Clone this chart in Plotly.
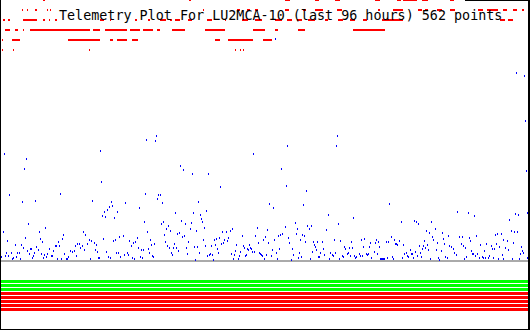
import plotly.graph_objects as go

TITLE = "Telemetry Plot For LU2MCA-10 (last 96 hours) 562 points"

# x unit: time bin (530 bins span the 96-hour window); y unit: telemetry value
WINDOW_START = 0.5
WINDOW_END = 527.5

# ---- telemetry samples (time bin, value), by quarter ----
samples_q1 = [
    (4,107),(26,102),(24,92),(100,110),(101,79),(9,66),(22,59),(35,60),(60,67),(92,60),
    (111,59),(125,58),(109,54),(107,51),(112,55),(104,49),(102,45),(105,44),(117,49),(114,43),
    (28,37),(45,33),(3,29),(39,29),(83,29),(85,26),(63,26),(7,20),(25,23),(40,22),
    (62,22),(89,21),(103,22),(119,24),(123,25),(115,21),(113,20),(129,20),(133,18),(42,19),
    (58,19),(15,16),(21,16),(23,13),(30,12),(31,12),(36,14),(38,11),(49,12),(53,10),
    (55,15),(56,15),(59,15),(64,7),(70,10),(72,9),(74,10),(75,15),(77,17),(79,17),
    (80,13),(82,15),(84,11),(87,17),(91,20),(94,18),(96,16),(95,11),(97,9),(1,4),
    (5,5),(6,8),(8,5),(11,8),(12,2),(13,3),(16,4),(17,8),(19,8),(20,2),
    (27,10),(29,7),(32,3),(33,5),(34,8),(41,7),(43,3),(44,6),(46,4),(47,7),
    (51,5),(52,5),(57,2),(61,2),(66,2),(67,2),(68,4),(76,5),(90,2),(98,3),
    (99,3),(106,9),(108,4),(110,3),(116,8),(118,8),(120,4),(124,6),(127,8),(128,6),
    (131,15),(132,3),(134,2),
]
samples_q2 = [
    (146,121),(156,125),(155,120),(253,107),(180,95),(183,91),(192,87),(208,87),(220,74),(145,67),
    (158,66),(160,66),(157,62),(162,58),(198,59),(139,53),(175,48),(193,48),(206,50),(200,46),
    (201,42),(202,39),(144,39),(163,39),(161,37),(181,40),(185,37),(191,38),(168,35),(166,32),
    (170,30),(190,32),(204,33),(196,30),(147,29),(177,27),(179,28),(164,26),(184,25),(182,24),
    (222,29),(226,29),(230,30),(232,32),(257,33),(242,25),(255,25),(265,24),(137,23),(135,19),
    (133,18),(150,21),(151,16),(154,17),(165,19),(167,15),(174,17),(188,19),(203,21),(214,21),
    (216,22),(219,23),(224,21),(228,23),(227,20),(223,18),(215,16),(221,17),(211,15),(236,16),
    (243,15),(244,13),(249,16),(250,13),(247,12),(263,21),(258,18),(138,13),(141,11),(143,11),
    (148,12),(149,8),(152,5),(153,4),(169,13),(171,8),(172,6),(173,13),(176,13),(178,10),
    (186,13),(194,14),(197,14),(199,8),(205,15),(207,5),(209,6),(210,7),(212,6),(217,12),
    (218,8),(213,1),(231,7),(233,2),(234,6),(235,10),(238,2),(239,5),(240,9),(245,5),
    (246,6),(248,11),(251,12),(252,9),(254,9),(259,8),(260,7),(261,6),(262,5),(264,2),
    (266,6),(140,4),(142,3),(195,1),(187,7),
]
samples_q3 = [
    (337,125),(336,115),(287,115),(281,92),(286,75),(306,70),(269,57),(273,53),(303,56),(389,57),
    (328,46),(353,43),(295,38),(338,37),(285,34),(307,35),(311,35),(309,32),(297,32),(326,31),
    (267,31),(278,25),(280,26),(282,27),(296,27),(302,26),(304,25),(265,24),(274,21),(288,23),
    (300,21),(268,18),(289,18),(305,19),(313,19),(317,19),(322,19),(314,16),(315,14),(323,12),
    (316,11),(334,21),(340,20),(351,19),(344,14),(345,12),(349,13),(352,13),(361,21),(364,22),
    (363,14),(369,14),(370,18),(375,18),(376,21),(378,19),(379,14),(386,19),(388,19),(391,24),
    (394,21),(395,17),(397,16),(272,11),(279,12),(292,12),(276,8),(266,6),(271,5),(277,2),
    (293,6),(298,3),(299,8),(301,4),(312,9),(320,8),(318,4),(319,4),(324,6),(329,2),
    (330,8),(332,6),(333,5),(335,8),(339,2),(342,5),(343,4),(347,7),(348,8),(350,5),
    (354,5),(355,3),(356,4),(359,7),(360,5),(362,5),(366,7),(367,6),(368,7),(371,3),
    (374,9),(377,7),(380,2),(381,2),(382,2),(383,2),(384,2),(387,3),(392,4),(393,2),
    (264,2),(291,1),(310,2),(275,222),
]
samples_q4 = [
    (516,188),(524,185),(525,140),(526,90),(528,86),(457,49),(468,48),(474,45),(515,47),(518,46),
    (527,48),(401,39),(414,40),(416,39),(418,37),(431,39),(509,41),(435,32),(426,30),(429,28),
    (442,28),(448,25),(511,30),(514,29),(517,29),(495,26),(497,27),(501,27),(432,24),(459,24),
    (462,24),(469,23),(476,25),(399,20),(424,20),(433,21),(443,22),(437,18),(470,20),(503,21),
    (507,20),(513,18),(396,17),(397,16),(403,16),(419,15),(423,15),(427,16),(444,17),(449,15),
    (451,14),(461,17),(463,15),(465,13),(480,16),(486,17),(491,15),(492,12),(494,12),(496,17),
    (499,14),(505,13),(508,11),(521,14),(522,10),(422,12),(425,13),(428,11),(410,11),(415,9),
    (420,8),(436,11),(441,10),(453,12),(454,8),(456,6),(471,10),(484,10),(502,6),(404,7),
    (406,8),(407,5),(408,4),(411,7),(412,7),(413,3),(417,5),(421,4),(402,3),(430,2),
    (438,3),(439,1),(445,4),(447,3),(464,2),(466,4),(472,7),(473,7),(475,5),(477,7),
    (479,3),(482,4),(483,3),(485,3),(488,3),(489,5),(493,3),(498,2),(503,2),(512,2),
    (519,2),(520,7),(523,8),(527,3),
]

# ---- status bits: time-bin runs where each bit is set (bit 0 at top) ----
bit0_runs = [(43,44),(189,190),(285,289),(315,318),(335,339),(375,379),(397,400),(403,416),
             (422,427),(450,453),(482,506),(518,523)]
bit1_runs = [(22,22),(27,27),(35,36),(47,47),(50,50),(203,203),(237,239),(247,249),(255,257),
             (285,288),(303,305),(315,322),(337,341),(378,379),(393,402),(418,421),(425,427),
             (437,441),(450,454),(478,482),(487,497),(503,506),(513,516),(522,523)]
bit2_runs = [(3,4),(8,9),(23,36),(43,44),(49,49),(55,56),(100,103),(110,110),(135,136),(148,149),
             (160,165),(170,171),(175,179),(188,191),(207,211),(225,225),(242,247),(255,261),
             (275,281),(287,291),(297,301),(308,314),(325,327),(338,342),(350,354),(363,366),
             (382,402),(500,504),(508,512)]
bit3_runs = [(5,9),(15,17),(23,23),(30,89),(93,99),(105,126),(130,139),(143,152),(157,159),
             (172,184),(205,224),(253,264),(275,277),(298,304),(353,384)]
bit4_runs = [(2,2),(12,19),(68,99),(110,112),(117,126),(132,137),(215,219),(228,252),(263,271)]
bit5_runs = [(2,2),(13,13),(89,89),(235,235),(240,240),(243,243)]
bit_rows = [bit0_runs, bit1_runs, bit2_runs, bit3_runs, bit4_runs, bit5_runs]

# ---- channel status bands at the bottom ----
band_status = ["ok", "ok", "ok", "alarm", "alarm", "alarm", "alarm", "alarm"]
STATUS_COLORS = {"ok": "#00ff00", "alarm": "#ff0000"}

BASELINE_VALUE = 0

fig = go.Figure()

# baseline
fig.add_trace(go.Scatter(
    x=[WINDOW_START, WINDOW_END], y=[BASELINE_VALUE, BASELINE_VALUE],
    mode="lines", line=dict(color="#aaaaaa", width=2), hoverinfo="skip",
    xaxis="x", yaxis="y"))

# bands
for j, st in enumerate(band_status):
    fig.add_trace(go.Scatter(
        x=[WINDOW_START, WINDOW_END], y=[j, j], mode="lines",
        line=dict(color=STATUS_COLORS[st], width=3), hoverinfo="skip",
        xaxis="x", yaxis="y3"))

# bit rows
HALF_BIN = 0.5
for k, runs in enumerate(bit_rows):
    xs, ys = [], []
    for a, b in runs:
        xs += [a - HALF_BIN, b + HALF_BIN, None]
        ys += [k, k, None]
    fig.add_trace(go.Scatter(
        x=xs, y=ys, mode="lines", line=dict(color="#ff0000", width=2),
        hoverinfo="skip", connectgaps=False, xaxis="x", yaxis="y2"))

# telemetry samples
all_samples = samples_q1 + samples_q2 + samples_q3 + samples_q4
fig.add_trace(go.Scatter(
    x=[s[0] for s in all_samples], y=[s[1] for s in all_samples],
    mode="markers",
    marker=dict(symbol="line-ns", size=1.43, color="#0000ff",
                line=dict(color="#0000ff", width=1)),
    xaxis="x", yaxis="y"))

W, H = 530, 330
fig.update_layout(
    width=W, height=H, margin=dict(l=0, r=0, t=0, b=0, pad=0),
    paper_bgcolor="white", plot_bgcolor="rgba(0,0,0,0)", showlegend=False,
    xaxis=dict(range=[-0.5, 529.5], visible=False, fixedrange=True),
    yaxis=dict(range=[-69, 261], visible=False, domain=[0, 1]),
    yaxis2=dict(range=[33, 0], visible=False, domain=[0, 1], overlaying="y"),
    yaxis3=dict(range=[7.5, -0.5], visible=False,
                domain=[18.5 / H, 50.5 / H], anchor="x"),
    annotations=[dict(
        text=TITLE, xref="paper", yref="paper", x=280 / W, y=1 - 16.0 / H,
        xanchor="center", yanchor="middle", showarrow=False,
        font=dict(family="DejaVu Sans Mono", size=13.4, color="black"))],
    shapes=[
        dict(type="line", xref="paper", yref="paper", x0=0.5 / W, x1=0.5 / W, y0=0, y1=1,
             line=dict(color="black", width=1)),
        dict(type="line", xref="paper", yref="paper", x0=529 / W, x1=529 / W, y0=0, y1=1,
             line=dict(color="black", width=2)),
        dict(type="line", xref="paper", yref="paper", x0=0, x1=1, y0=0.5 / H, y1=0.5 / H,
             line=dict(color="black", width=1)),
        dict(type="line", xref="paper", yref="paper", x0=465 / W, x1=1, y0=1 - 0.5 / H,
             y1=1 - 0.5 / H, line=dict(color="black", width=1)),
    ],
)

fig.write_html("out.html")
